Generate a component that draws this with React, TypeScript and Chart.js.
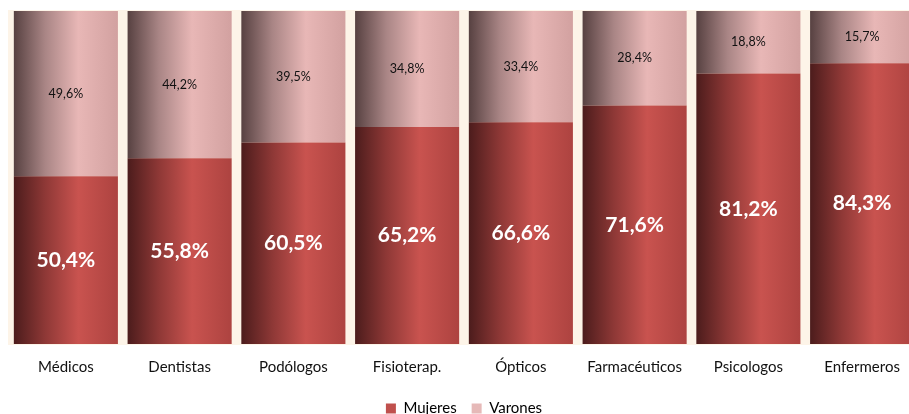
import React, { useEffect, useRef } from "react";
import { Chart, registerables } from "chart.js";

Chart.register(...registerables);

const categories = ["Médicos", "Dentistas", "Podólogos", "Fisioterap.", "Ópticos", "Farmacéuticos", "Psicologos", "Enfermeros"];
const mujeres = [50.4, 55.8, 60.5, 65.2, 66.6, 71.6, 81.2, 84.3];
const varones = [49.6, 44.2, 39.5, 34.8, 33.4, 28.4, 18.8, 15.7];

const FONT = "Lato, 'Open Sans', sans-serif";

const mujeresStops: [number, string][] = [
  [0, "#4c1c1c"],
  [0.3, "#8e3836"],
  [0.62, "#c9534f"],
  [1, "#ad4340"],
];
const varonesStops: [number, string][] = [
  [0, "#574141"],
  [0.3, "#a98585"],
  [0.62, "#e8b7b6"],
  [1, "#d2a1a0"],
];

function barGradient(ctx: any, stops: [number, string][], fallback: string) {
  const chart = ctx.chart;
  const area = chart.chartArea;
  const xs = chart.scales?.x;
  if (!area || !xs || ctx.dataIndex === undefined) return fallback;
  const cx = xs.getPixelForValue(ctx.dataIndex);
  const w = (xs.width / categories.length) * 0.915;
  const g = chart.ctx.createLinearGradient(cx - w / 2, 0, cx + w / 2, 0);
  stops.forEach(([o, c]) => g.addColorStop(o, c));
  return g;
}

const creamBg = {
  id: "creamBg",
  beforeDraw(chart: any) {
    const { ctx, chartArea } = chart;
    ctx.save();
    ctx.fillStyle = "#fdf4e8";
    ctx.fillRect(chartArea.left - 1, chartArea.top - 1, chartArea.right - chartArea.left + 2, chartArea.bottom - chartArea.top + 2);
    ctx.restore();
  },
};

const barLabels = {
  id: "barLabels",
  afterDatasetsDraw(chart: any) {
    const { ctx } = chart;
    ctx.save();
    ctx.textAlign = "center";
    ctx.textBaseline = "middle";
    chart.data.datasets.forEach((ds: any, di: number) => {
      const meta = chart.getDatasetMeta(di);
      meta.data.forEach((el: any, i: number) => {
        const v = ds.data[i];
        const txt = v.toFixed(1).replace(".", ",") + "%";
        const y = (el.y + el.base) / 2;
        if (di === 0) {
          ctx.font = `bold 21px ${FONT}`;
          ctx.fillStyle = "#ffffff";
        } else {
          ctx.font = `12.5px ${FONT}`;
          ctx.fillStyle = "#111111";
        }
        ctx.fillText(txt, el.x, y);
      });
    });
    ctx.restore();
  },
};

export default function App() {
  const ref = useRef<HTMLCanvasElement | null>(null);
  useEffect(() => {
    if (!ref.current) return;
    const chart = new Chart(ref.current, {
      type: "bar",
      data: {
        labels: categories,
        datasets: [
          {
            label: "Mujeres",
            data: mujeres,
            backgroundColor: (c: any) => barGradient(c, mujeresStops, "#c0504d"),
            borderWidth: 0,
            barPercentage: 0.915,
            categoryPercentage: 1,
          },
          {
            label: "Varones",
            data: varones,
            backgroundColor: (c: any) => barGradient(c, varonesStops, "#e6b9b8"),
            borderWidth: 0,
            barPercentage: 0.915,
            categoryPercentage: 1,
          },
        ],
      },
      options: {
        responsive: false,
        animation: false,
        maintainAspectRatio: false,
        layout: { padding: { top: 3, left: 1, right: 0, bottom: 0 } },
        scales: {
          x: {
            stacked: true,
            grid: { display: false, drawTicks: false },
            border: { display: false },
            ticks: { color: "#111", font: { family: FONT, size: 15 }, padding: 14, maxRotation: 0, autoSkip: false },
            afterFit: (s: any) => {
              s.height += -4;
            },
          },
          y: {
            stacked: true,
            min: 0,
            max: 100,
            display: false,
          },
        },
        plugins: {
          legend: {
            position: "bottom",
            onClick: () => {},
            labels: {
              color: "#111",
              font: { family: FONT, size: 15 },
              boxWidth: 10,
              boxHeight: 10,
              padding: 15,
              generateLabels: () => [
                { text: "Mujeres", fillStyle: "#c0504d", strokeStyle: "#c0504d", lineWidth: 0, datasetIndex: 0, hidden: false },
                { text: "Varones", fillStyle: "#e6b9b8", strokeStyle: "#e6b9b8", lineWidth: 0, datasetIndex: 1, hidden: false },
              ],
            },
          },
          tooltip: { enabled: false },
        },
      },
      plugins: [creamBg, barLabels],
    });
    return () => chart.destroy();
  }, []);
  return (
    <div style={{ position: "fixed", left: 0, top: 0, width: 909, height: 414, overflow: "hidden" }}>
      <canvas ref={ref} width={911} height={418} style={{ display: "block", marginLeft: 8, marginTop: 8 }} />
    </div>
  );
}
